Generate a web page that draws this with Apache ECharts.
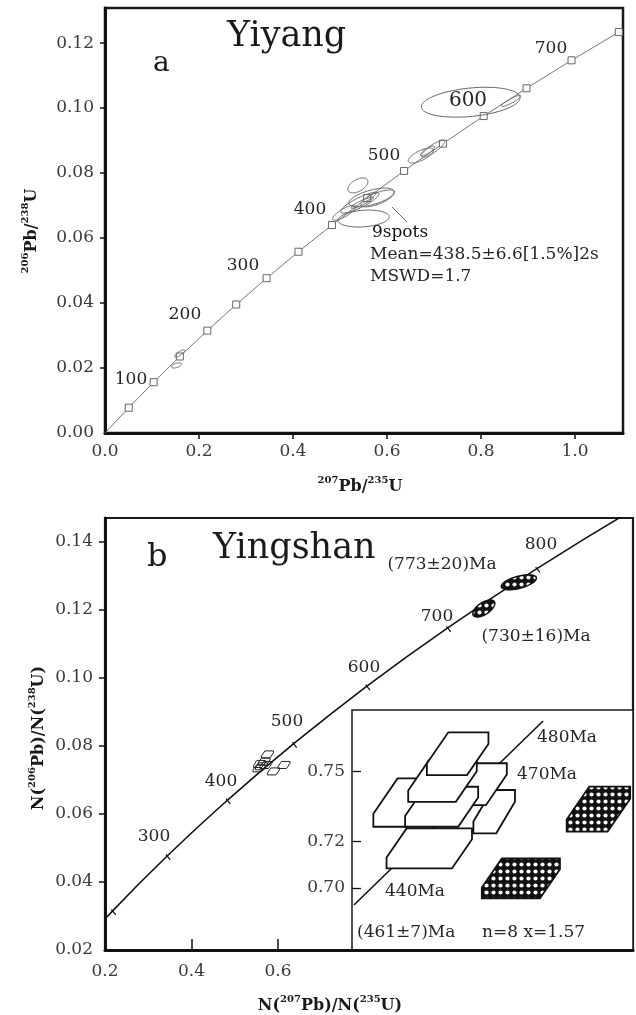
<!DOCTYPE html>
<html><head><meta charset="utf-8">
<script src="https://cdn.jsdelivr.net/npm/echarts@6/dist/echarts.min.js"></script>
<style>html,body{margin:0;padding:0;background:#fff}#c{width:636px;height:1015px}</style>
</head><body><div id="c"></div>
<script>
// ---------- Panel a (Yiyang) ----------
const aAges = [0, 50, 100, 150, 200, 250, 300, 350, 400, 450, 500, 550, 600, 650, 700, 750];
const aR75  = [0, 0.05048, 0.10350, 0.15920, 0.21771, 0.27917, 0.34374, 0.41157, 0.48281, 0.55765, 0.63629, 0.71888, 0.80563, 0.89677, 0.99252, 1.09309];
const aR68  = [0, 0.007786, 0.015633, 0.023542, 0.031511, 0.039543, 0.047637, 0.055794, 0.064015, 0.072300, 0.080650, 0.089064, 0.097544, 0.10609, 0.11470, 0.12338];
// error ellipses: [207/235, 206/238, err 207/235, err 206/238, rho]
const aEllipses = [
  [0.778, 0.1018, 0.105, 0.0046, 0.30],
  [0.864, 0.1022, 0.0204, 0.0017, 0.90],
  [0.672, 0.0854, 0.0268, 0.0023, 0.70],
  [0.698, 0.0875, 0.0247, 0.0026, 0.85],
  [0.686, 0.0868, 0.0150, 0.0015, 0.80],
  [0.538, 0.0762, 0.0214, 0.0023, 0.50],
  [0.567, 0.0725, 0.0482, 0.0029, 0.60],
  [0.542, 0.0709, 0.0407, 0.0032, 0.85],
  [0.580, 0.0722, 0.0354, 0.0026, 0.70],
  [0.509, 0.0678, 0.0247, 0.0023, 0.80],
  [0.550, 0.0660, 0.0547, 0.0026, 0.20],
  [0.563, 0.0725, 0.0139, 0.0014, 0.90],
  [0.547, 0.0709, 0.0236, 0.0017, 0.90],
  [0.159, 0.0245, 0.0107, 0.0011, 0.80],
  [0.152, 0.0208, 0.0107, 0.0008, 0.50]
];
const aXTicks = [0, 0.2, 0.4, 0.6, 0.8, 1.0];
const aYTicks = [0, 0.02, 0.04, 0.06, 0.08, 0.10, 0.12];

// ---------- Panel b (Yingshan) ----------
const bAges = [185, 200, 250, 300, 350, 400, 450, 500, 550, 600, 650, 700, 750, 800, 850, 890];
const bR75  = [0.19986, 0.21771, 0.27917, 0.34374, 0.41157, 0.48281, 0.55765, 0.63629, 0.71888, 0.80563, 0.89677, 0.99252, 1.09309, 1.19873, 1.30971, 1.40252];
const bR68  = [0.029114, 0.031511, 0.039543, 0.047637, 0.055794, 0.064015, 0.072300, 0.080650, 0.089064, 0.097544, 0.10609, 0.11470, 0.12338, 0.13213, 0.14094, 0.14805];
// error boxes: [207/235, 206/238, err x, err y]
const bBoxes = [
  [0.5757, 0.0775, 0.0139, 0.00103],
  [0.5572, 0.0747, 0.0139, 0.00103],
  [0.5618, 0.0740, 0.0139, 0.00103],
  [0.5896, 0.0725, 0.0139, 0.00103],
  [0.6139, 0.0744, 0.0139, 0.00103],
  [0.5676, 0.0754, 0.0139, 0.00103],
  [0.5561, 0.0734, 0.0139, 0.00103],
  [0.5723, 0.0744, 0.0139, 0.00103]
];
// filled ellipses: [x, y, err x, err y, rho]
const bEllipses = [
  [1.157, 0.1281, 0.0405, 0.0022, 0.55],
  [1.076, 0.1204, 0.0254, 0.0025, 0.60]
];
const bXTicks = [0.2, 0.4, 0.6];
const bYTicks = [0.02, 0.04, 0.06, 0.08, 0.10, 0.12, 0.14];

// ---------- Inset ----------
const inLine = [[0.5007, 0.69266], [0.5680, 0.77177]];
const inBoxes = [
  [0.5180, 0.7367, 0.0104, 0.0104],
  [0.5506, 0.7328, 0.0074, 0.0093],
  [0.5450, 0.7446, 0.0101, 0.0090],
  [0.5319, 0.7349, 0.0130, 0.0086],
  [0.5322, 0.7460, 0.0122, 0.0090],
  [0.5376, 0.7577, 0.01095, 0.0092],
  [0.5275, 0.7170, 0.0152, 0.0086]
];
const inHatched = [
  [0.5877, 0.7339, 0.0113, 0.0097],
  [0.5601, 0.7041, 0.0139, 0.0086]
];
const inYTicks = [0.70, 0.72, 0.75];

// ---------- drawing ----------
const FONT = 'DejaVu Serif';
const pc = document.createElement('canvas');
pc.width = 7; pc.height = 7;
const g = pc.getContext('2d');
g.fillStyle = '#111'; g.fillRect(0, 0, 7, 7);
g.fillStyle = '#fff'; g.beginPath(); g.arc(3.5, 3.5, 2.1, 0, Math.PI * 2); g.fill();
const hatch = {image: pc, repeat: 'repeat'};

function ellipseRender(style) {
  return function (params, api) {
    const cx = api.value(0), cy = api.value(1), sx = api.value(2), sy = api.value(3), r = api.value(4);
    const s = Math.sqrt(1 - r * r), pts = [];
    for (let k = 0; k < 90; k++) {
      const t = k / 90 * 2 * Math.PI;
      pts.push(api.coord([cx + sx * Math.cos(t), cy + sy * (r * Math.cos(t) + s * Math.sin(t))]));
    }
    return {type: 'polygon', shape: {points: pts}, style: style};
  };
}
function boxRender(style) {
  return function (params, api) {
    const cx = api.value(0), cy = api.value(1), sx = api.value(2), sy = api.value(3);
    const tl = api.coord([cx - sx, cy + sy]), br = api.coord([cx + sx, cy - sy]);
    const x1 = tl[0], y1 = tl[1], x2 = br[0], y2 = br[1];
    const h = y2 - y1, w = x2 - x1;
    const p = Math.min(0.5 * h, 0.45 * w), q = 0.27 * h;
    return {type: 'polygon', shape: {points: [[x1 + p, y1], [x2, y1], [x2, y1 + q], [x2 - p, y2], [x1, y2], [x1, y2 - q]]}, style: style};
  };
}
function tickRender(params, api) {
  const p = api.coord([api.value(0), api.value(1)]);
  const nx = 0.61, ny = 0.79;
  return {type: 'line', shape: {x1: p[0] - 2 * nx, y1: p[1] - 2 * ny, x2: p[0] + 5 * nx, y2: p[1] + 5 * ny}, style: {stroke: '#111', lineWidth: 1.2}};
}

const lbl = {fontFamily: FONT, fontSize: 17, color: '#3a3a3a'};
function txt(t, x, y, opt) {
  opt = opt || {};
  return {type: 'text', x: x, y: y, rotation: opt.rot || 0, z: 100,
    style: Object.assign({text: t, fontFamily: FONT, fontSize: opt.size || 17, fill: opt.color || '#262626',
      align: opt.align || 'center', verticalAlign: 'middle', rich: opt.rich}, {})};
}
const supRich = {
  b: {fontFamily: FONT, fontWeight: 'bold', fontSize: 16, lineHeight: 20, fill: '#1a1a1a', verticalAlign: 'bottom'},
  s: {fontFamily: FONT, fontWeight: 'bold', fontSize: 10, lineHeight: 12, fill: '#1a1a1a', verticalAlign: 'top'}
};

const chart = echarts.init(document.getElementById('c'), null, {renderer: 'canvas'});
chart.setOption({
  animation: false,
  backgroundColor: '#fff',
  grid: [
    {left: 105, top: 8, width: 518, height: 425, show: true, borderColor: '#1a1a1a', borderWidth: 2.5, backgroundColor: 'transparent'},
    {left: 105, top: 518, width: 528, height: 432, show: true, borderColor: '#1a1a1a', borderWidth: 2.2, backgroundColor: 'transparent'},
    {left: 352, top: 710, width: 281, height: 240, show: true, borderColor: '#1a1a1a', borderWidth: 1.5, backgroundColor: '#fff'}
  ],
  xAxis: [
    {gridIndex: 0, type: 'value', min: 0, max: 1.102,
     axisLine: {lineStyle: {color: '#111', width: 3}}, splitLine: {show: false},
     axisTick: {length: 6, lineStyle: {color: '#111', width: 1.5}, customValues: aXTicks.slice(1)},
     axisLabel: Object.assign({margin: 10, customValues: aXTicks, formatter: v => v.toFixed(1)}, lbl)},
    {gridIndex: 1, type: 'value', min: 0.2, max: 1.421,
     axisLine: {lineStyle: {color: '#111', width: 3}}, splitLine: {show: false},
     axisTick: {inside: true, length: 11, lineStyle: {color: '#111', width: 1.5}, customValues: bXTicks.slice(1)},
     axisLabel: Object.assign({margin: 13, customValues: bXTicks, formatter: v => v.toFixed(1)}, lbl)},
    {gridIndex: 2, type: 'value', min: 0.5, max: 0.6, show: false}
  ],
  yAxis: [
    {gridIndex: 0, type: 'value', min: 0, max: 0.1308,
     axisLine: {lineStyle: {color: '#111', width: 3}}, splitLine: {show: false},
     axisTick: {length: 5, lineStyle: {color: '#111', width: 1.5}, customValues: aYTicks.slice(1)},
     axisLabel: Object.assign({margin: 11, customValues: aYTicks, formatter: v => v.toFixed(2)}, lbl)},
    {gridIndex: 1, type: 'value', min: 0.02, max: 0.147,
     axisLine: {lineStyle: {color: '#111', width: 3}}, splitLine: {show: false},
     axisTick: {length: 6, lineStyle: {color: '#111', width: 1.5}, customValues: bYTicks.slice(1)},
     axisLabel: Object.assign({margin: 12, customValues: bYTicks, formatter: v => v.toFixed(2)}, lbl)},
    {gridIndex: 2, type: 'value', min: 0.67332, max: 0.7765,
     axisLine: {show: false}, splitLine: {show: false},
     axisTick: {inside: true, length: 9, lineStyle: {color: '#111', width: 1.3}, customValues: inYTicks},
     axisLabel: Object.assign({margin: 7, customValues: inYTicks, formatter: v => v.toFixed(2)}, lbl)}
  ],
  series: [
    {type: 'line', xAxisIndex: 0, yAxisIndex: 0, z: 3,
     data: aAges.map((t, i) => t === 0 ? {value: [aR75[i], aR68[i]], symbol: 'none'} : [aR75[i], aR68[i]]),
     symbol: 'rect', symbolSize: 7, showSymbol: true,
     lineStyle: {color: '#777', width: 1},
     itemStyle: {color: '#fff', borderColor: '#666', borderWidth: 1}},
    {type: 'custom', xAxisIndex: 0, yAxisIndex: 0, z: 4, data: aEllipses, encode: {x: 0, y: 1},
     renderItem: ellipseRender({fill: 'none', stroke: '#666', lineWidth: 1})},
    {type: 'line', xAxisIndex: 1, yAxisIndex: 1, z: 3,
     data: bAges.map((t, i) => [bR75[i], bR68[i]]), symbol: 'none', clip: true,
     lineStyle: {color: '#111', width: 1.6}},
    {type: 'custom', xAxisIndex: 1, yAxisIndex: 1, z: 4,
     data: bAges.map((t, i) => [bR75[i], bR68[i], t]).filter(d => d[2] % 100 === 0),
     encode: {x: 0, y: 1}, renderItem: tickRender},
    {type: 'custom', xAxisIndex: 1, yAxisIndex: 1, z: 5, data: bBoxes, encode: {x: 0, y: 1},
     renderItem: boxRender({fill: 'none', stroke: '#222', lineWidth: 1})},
    {type: 'custom', xAxisIndex: 1, yAxisIndex: 1, z: 5, data: bEllipses, encode: {x: 0, y: 1},
     renderItem: ellipseRender({fill: hatch, stroke: '#111', lineWidth: 1.5})},
    {type: 'line', xAxisIndex: 2, yAxisIndex: 2, z: 3, data: inLine, symbol: 'none',
     lineStyle: {color: '#111', width: 1.6}},
    {type: 'custom', xAxisIndex: 2, yAxisIndex: 2, z: 5, data: inBoxes, encode: {x: 0, y: 1},
     renderItem: boxRender({fill: '#fff', stroke: '#111', lineWidth: 1.8})},
    {type: 'custom', xAxisIndex: 2, yAxisIndex: 2, z: 5, data: inHatched, encode: {x: 0, y: 1},
     renderItem: boxRender({fill: hatch, stroke: '#111', lineWidth: 1.8})}
  ],
  graphic: [
    txt('Yiyang', 227, 37, {size: 35, align: 'left', color: '#1a1a1a'}),
    txt('a', 153, 64, {size: 28, align: 'left', color: '#1a1a1a'}),
    txt('100', 131, 380), txt('200', 185, 315), txt('300', 243, 266), txt('400', 310, 210),
    txt('500', 384, 156), txt('600', 468, 101, {size: 20}), txt('700', 551, 49),
    txt('9spots', 400, 233, {color: '#111'}),
    txt('Mean=438.5±6.6[1.5%]2s', 370, 255, {align: 'left'}),
    txt('MSWD=1.7', 370, 277, {align: 'left'}),
    {type: 'line', z: 100, shape: {x1: 392, y1: 207, x2: 407, y2: 222}, style: {stroke: '#666', lineWidth: 1}},
    txt('{s|206}{b|Pb/}{s|238}{b|U}', 30, 231, {rot: Math.PI / 2, rich: supRich}),
    txt('{s|207}{b|Pb/}{s|235}{b|U}', 360, 485, {rich: supRich}),
    txt('b', 147, 558, {size: 32, align: 'left', color: '#1a1a1a'}),
    txt('Yingshan', 213, 549, {size: 35, align: 'left', color: '#1a1a1a'}),
    txt('300', 154, 837), txt('400', 221, 782), txt('500', 287, 722), txt('600', 364, 668),
    txt('700', 437, 617), txt('800', 541, 545),
    txt('(773±20)Ma', 442, 565), txt('(730±16)Ma', 536, 637),
    txt('480Ma', 537, 738, {align: 'left'}), txt('470Ma', 517, 775, {align: 'left'}),
    txt('440Ma', 385, 892, {align: 'left'}),
    txt('(461±7)Ma', 357, 933, {align: 'left'}), txt('n=8 x=1.57', 482, 933, {align: 'left'}),
    txt('{b|N(}{s|206}{b|Pb)/N(}{s|238}{b|U)}', 37, 738, {rot: Math.PI / 2, rich: supRich}),
    txt('{b|N(}{s|207}{b|Pb)/N(}{s|235}{b|U)}', 330, 1004, {rich: supRich})
  ]
});
</script></body></html>
